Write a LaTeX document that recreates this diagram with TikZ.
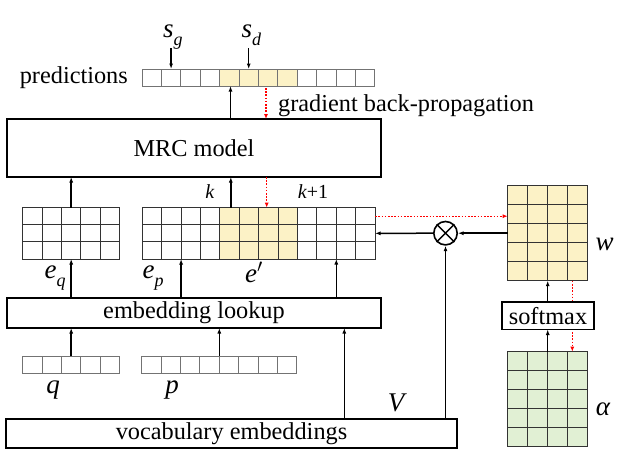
\RequirePackage{fix-cm}
\documentclass[tikz,border=0pt]{standalone}
\usepackage{fontspec}
\setmainfont{Liberation Serif}
\usetikzlibrary{arrows.meta,calc,fit}
\definecolor{yel}{HTML}{FCF2C6}
\definecolor{grn}{HTML}{E1F0D4}
\tikzset{
  box/.style={draw=black, line width=1.6pt, inner sep=0pt, outer sep=0pt, anchor=north west, fill=white, font=\fontsize{24.3}{29}\selectfont},
  arr/.style={-{Latex[length=5.5pt,width=4pt]}, line width=1.5pt, black},
  grad/.style={-{Latex[length=5pt,width=4pt]}, red, line width=1.3pt, dash pattern=on 1.6pt off 1.6pt},
  celld/.style={draw=black!80, line width=1pt},
  celll/.style={draw=black!55, line width=1pt},
  txt/.style={inner sep=0pt, font=\fontsize{24.3}{29}\selectfont},
  mth/.style={inner sep=0pt, font=\fontsize{27}{30}\selectfont\itshape},
  smallmth/.style={inner sep=0pt, font=\fontsize{20}{24}\selectfont},
}
% italic letter with lowered subscript
\newcommand\lab[2]{#1\raisebox{-0.3em}{\fontsize{18}{20}\selectfont\itshape #2}}
% name, x, y, cols, rows, cell width, row height, cell style
\newcommand\mkgrid[8]{%
  \foreach \c in {1,...,#4}{\foreach \r in {1,...,#5}{%
    \draw[#8] ({#2+(\c-1)*#6},{#3+(\r-1)*#7}) rectangle ++(#6,#7);}}
  \path ({#2},{#3}) coordinate (#1-nw) ({#2+#4*#6},{#3+#5*#7}) coordinate (#1-se);
  \node[inner sep=0pt, outer sep=0pt, fit=(#1-nw)(#1-se)] (#1) {};
}
\begin{document}
\begin{tikzpicture}[x=1pt,y=-1pt]
\useasboundingbox (0,0) rectangle (637,472);

% ---- cell grids ----
\fill[yel] ({142+4*19.4},69) rectangle ({142+8*19.4},86);
\mkgrid{pred}{142}{69}{12}{1}{19.4}{17}{celll}

\mkgrid{eq}{22.7}{207.7}{5}{3}{19.4}{17.1}{celld}
\fill[yel] ({142.3+4*19.4},207.7) rectangle ({142.3+8*19.4},{207.7+3*17.1});
\mkgrid{ep}{142.3}{207.7}{12}{3}{19.4}{17.1}{celld}

\mkgrid{q}{22.7}{356}{5}{1}{19.4}{17.3}{celll}
\mkgrid{p}{141.7}{356}{8}{1}{19.4}{17.3}{celll}

\fill[yel] (507.7,185.7) rectangle ({507.7+80},{185.7+95});
\mkgrid{w}{507.7}{185.7}{4}{5}{20}{19}{celld}
\fill[grn] (507.7,351.7) rectangle ({507.7+80},{351.7+94.5});
\mkgrid{al}{507.7}{351.7}{4}{5}{20}{18.9}{celld}

% ---- boxes ----
\node[box, minimum width=374pt, minimum height=58pt] (mrc) at (7,119) {MRC model};
\node[box, minimum width=374pt, minimum height=30pt] (look) at (7,298) {embedding lookup};
\node[box, minimum width=451pt, minimum height=29pt] (vocab) at (6,419) {vocabulary embeddings};

% red gradient through softmax (hidden behind it)
\coordinate (r2) at ($(w.south west)+(64.6,0)$);
\draw[grad] (r2) -- (r2 |- al.north);
\node[box, minimum width=92pt, minimum height=27.5pt] (soft) at (502,302) {softmax};

\node[circle, draw=black, line width=1.6pt, minimum size=23.4pt, inner sep=0pt, fill=white] (ot) at (445.5,233.2) {};
\draw[line width=1.4pt] (ot.north west) -- (ot.south east) (ot.north east) -- (ot.south west);

% ---- labels ----
\node[txt, anchor=base east] (predlab) at (128,83.3) {predictions};
\node[mth, anchor=base west] (sg) at (163,37) {\lab{s}{g}};
\node[mth, anchor=base west] (sd) at (241.5,37) {\lab{s}{d}};
\node[txt, anchor=base west] (gbp) at (278,111.5) {gradient back-propagation};
\node[smallmth, anchor=base] (kl) at (210,198) {\textit{k}};
\node[smallmth, anchor=base] (k1l) at (313,198) {\textit{k}+1};
\node[mth, anchor=base west] (eql) at (44.5,278) {\lab{e}{q}};
\node[mth, anchor=base west] (epl) at (142.5,278) {\lab{e}{p}};
\node[mth, anchor=base west] (eprime) at (245,282) {e$'$};
\node[mth, anchor=base] (ql) at (53,393) {q};
\node[mth, anchor=base] (pl) at (172,393) {p};
\node[mth, anchor=base] (vl) at (396,411.7) {V};
\node[mth, anchor=base] (wl) at (604.5,250.7) {w};
\node[mth, anchor=base] (all) at (603,415) {α};

% ---- connectors ----
\coordinate (sgx) at ($(pred.north west)+(29.1,0)$);
\coordinate (sdx) at ($(pred.north west)+(106.7,0)$);
\draw[arr] ($(sgx)+(0,-21)$) -- (sgx);
\draw[arr] ($(sdx)+(0,-21)$) -- (sdx);

\coordinate (px) at ($(pred.south west)+(88.5,0)$);
\draw[arr] (px |- mrc.north) -- (px);
\coordinate (g1) at ($(pred.south west)+(124,0)$);
\draw[grad] ($(g1)+(0,2)$) -- (g1 |- mrc.north);

\draw[arr] (eq.north) -- (eq.north |- mrc.south);
\coordinate (e5) at ($(ep.north west)+(88.5,0)$);
\draw[arr] (e5) -- (e5 |- mrc.south);
\coordinate (g2) at ($(ep.north west)+(124.4,0)$);
\draw[grad] (g2 |- mrc.south) -- (g2);

\draw[arr] (eq.south |- look.north) -- (eq.south);
\coordinate (e2) at ($(ep.south west)+(38.8,0)$);
\coordinate (e10) at ($(ep.south west)+(194,0)$);
\draw[arr] (e2 |- look.north) -- (e2);
\draw[arr] (e10 |- look.north) -- (e10);

\draw[arr] (q.north) -- (q.north |- look.south);
\draw[arr] (p.north) -- (p.north |- look.south);
\coordinate (vx) at ($(vocab.north west)+(338.3,0)$);
\draw[arr] (vx) -- (vx |- look.south);

\draw[arr] (ot.south |- vocab.north) -- (ot.south);
\draw[arr] (w.west) -- (ot.east);
\draw[arr] (ot.west) -- (ep.east);
\coordinate (r1) at ($(ep.north east)+(0,8.5)$);
\draw[grad] (r1) -- (r1 -| w.west);

\draw[arr] (w.south |- soft.north) -- (w.south);
\draw[arr] (al.north) -- (al.north |- soft.south);
\end{tikzpicture}
\end{document}
